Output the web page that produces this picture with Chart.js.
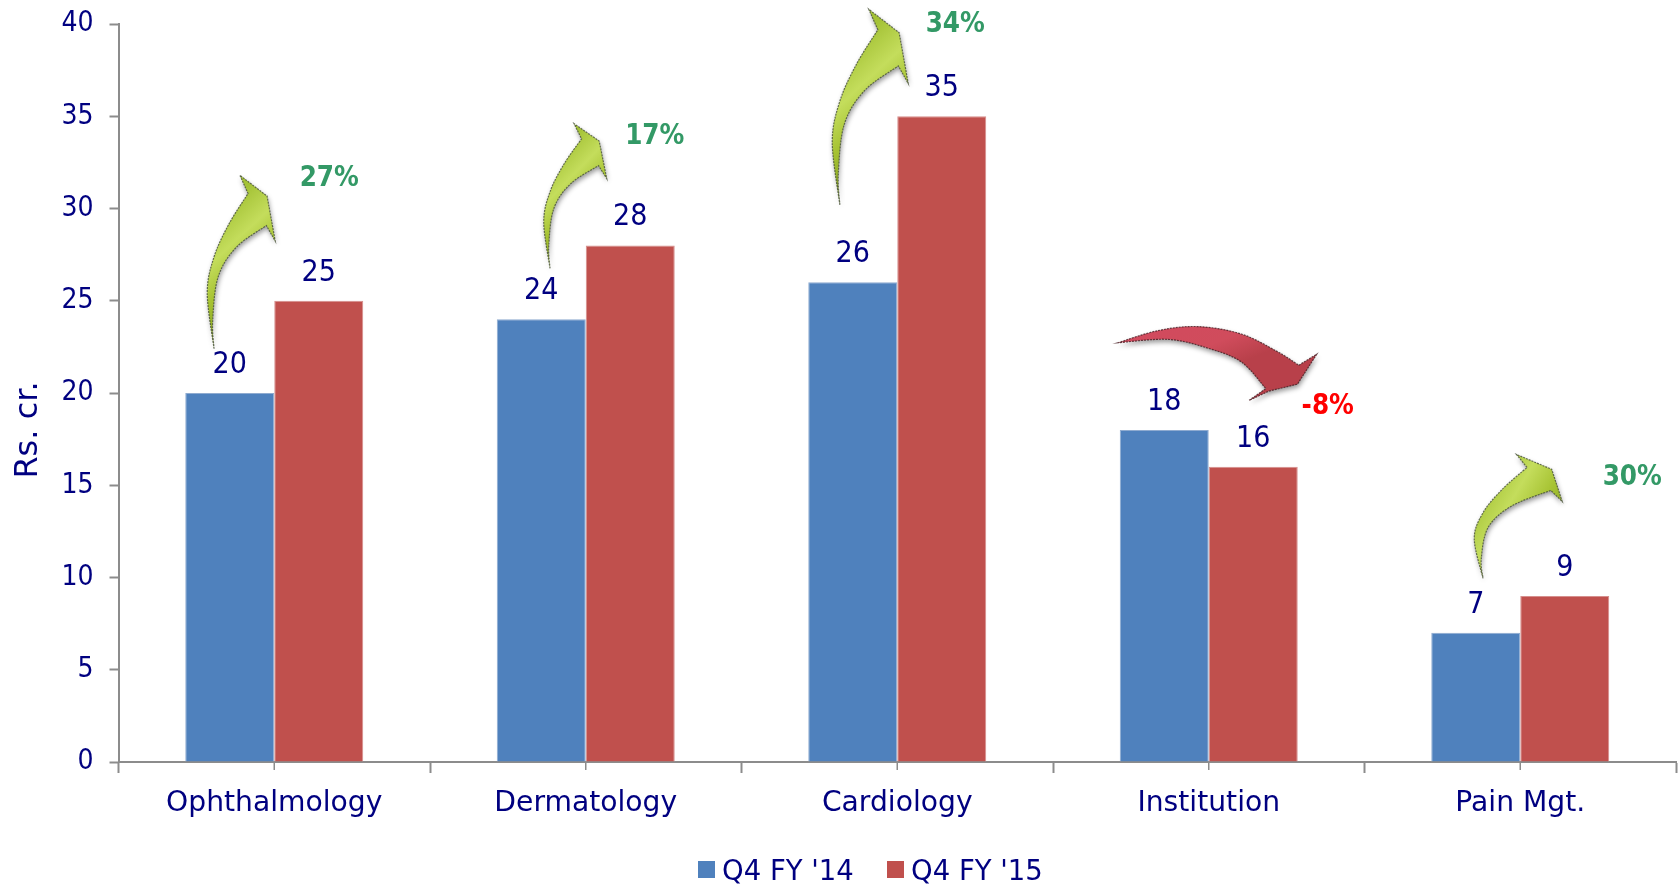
<!DOCTYPE html>
<html>
<head>
<meta charset="utf-8">
<title>Q4 revenue by division</title>
<script src="https://cdn.jsdelivr.net/npm/chart.js@4/dist/chart.umd.min.js"></script>
<style>
  html, body { margin: 0; background: #fff; }
  #wrap { position: relative; width: 1680px; height: 885px; }
</style>
</head>
<body>
<div id="wrap"><canvas id="chart"></canvas></div>
<script>
const categories = ["Ophthalmology", "Dermatology", "Cardiology", "Institution", "Pain Mgt."];
const q4fy14 = [20, 24, 26, 18, 7];
const q4fy15 = [25, 28, 35, 16, 9];
const growth = ["27%", "17%", "34%", "-8%", "30%"];

const NAVY = "#000080";
const AXIS = "#8c8c8c";
const WORDS = "'DejaVu Sans', sans-serif";
const DIGITS = "'DejaVu Sans Condensed', 'DejaVu Sans', sans-serif";

// where each growth arrow and its label sit: x in pixels off the category centre, y in axis units
const arrowBoxes = [
  { left: -67, right: 1,   top: 31.8, bottom: 22.4 },
  { left: -42, right: 21,  top: 34.6, bottom: 26.75 },
  { left: -65, right: 11,  top: 40.8, bottom: 30.2 },
  { left: -91, right: 108, top: 23.6, bottom: 19.6 },
  { left: -46, right: 42,  top: 16.67, bottom: 9.95 },
];
const growthSpots = [
  { dx: 55,  value: 31.2 },
  { dx: 69,  value: 33.5 },
  { dx: 58,  value: 39.55 },
  { dx: 119, value: 18.84 },
  { dx: 112, value: 15.0 },
];

// arrow outlines, 0..1 inside their box
const upCurveOut = [[0.1, 1], [0, 0.68], [0.1, 0.47], [0.32, 0.28], [0.6, 0.105]];
const upHead = [[0.48, 0], [0.88, 0.12], [1, 0.38], [0.87, 0.29]];
const upCurveIn = [[0.87, 0.29], [0.43, 0.414], [0.16, 0.586], [0.08, 0.84], [0.1, 1]];
const downCurveOut = [[0, 0.22], [0.2, 0.056], [0.4, 0], [0.62, 0.1], [0.8, 0.336], [0.91, 0.523]];
const downHead = [[1, 0.374], [0.903, 0.78], [0.76, 0.874], [0.66, 1], [0.744, 0.84]];
const downCurveIn = [[0.744, 0.84], [0.62, 0.477], [0.45, 0.29], [0.25, 0.173], [0, 0.22]];

// catmull-rom through the points, current point being the first one
function smoothTo (ctx, pts, box) {
  const px = p => [box.x + p[0] * box.w, box.y + p[1] * box.h];
  const at = i => px(pts[Math.max(0, Math.min(pts.length - 1, i))]);
  for (let i = 0; i < pts.length - 1; i++) {
    const p0 = at(i - 1), p1 = at(i), p2 = at(i + 1), p3 = at(i + 2);
    ctx.bezierCurveTo(
      p1[0] + (p2[0] - p0[0]) / 6, p1[1] + (p2[1] - p0[1]) / 6,
      p2[0] - (p3[0] - p1[0]) / 6, p2[1] - (p3[1] - p1[1]) / 6,
      p2[0], p2[1]
    );
  }
}

function drawArrow (ctx, box, up) {
  const out = up ? upCurveOut : downCurveOut;
  const head = up ? upHead : downHead;
  const inner = up ? upCurveIn : downCurveIn;
  ctx.save();
  ctx.filter = "blur(0.5px)";
  ctx.beginPath();
  ctx.moveTo(box.x + out[0][0] * box.w, box.y + out[0][1] * box.h);
  smoothTo(ctx, out, box);
  head.forEach(p => ctx.lineTo(box.x + p[0] * box.w, box.y + p[1] * box.h));
  smoothTo(ctx, inner, box);
  ctx.closePath();

  let g;
  if (up) {
    g = ctx.createLinearGradient(box.x, box.y + box.h * 0.2, box.x + box.w, box.y + box.h * 0.62);
    g.addColorStop(0.1, "#a4c236");
    g.addColorStop(0.42, "#c4dd5c");
    g.addColorStop(0.7, "#a6c232");
    g.addColorStop(1, "#86a324");
  } else {
    g = ctx.createLinearGradient(box.x, box.y, box.x + box.w * 0.15, box.y + box.h);
    g.addColorStop(0.1, "#d24a5e");
    g.addColorStop(0.65, "#d04c5c");
    g.addColorStop(1, "#b8404a");
  }
  ctx.save();
  ctx.shadowColor = "rgba(0,0,0,0.4)";
  ctx.shadowBlur = 5;
  ctx.shadowOffsetX = 1;
  ctx.shadowOffsetY = 3;
  ctx.fillStyle = g;
  ctx.fill();
  ctx.restore();
  ctx.strokeStyle = up ? "rgba(70,80,55,0.8)" : "rgba(70,30,35,0.8)";
  ctx.lineWidth = 1.2;
  ctx.setLineDash([2, 1]);
  ctx.stroke();
  ctx.restore();
}

const decorations = {
  id: "decorations",
  afterDatasetsDraw (chart) {
    const { ctx, scales: { x, y } } = chart;
    ctx.save();

    // short tick under each category centre
    ctx.strokeStyle = AXIS;
    ctx.lineWidth = 1.5;
    categories.forEach((c, i) => {
      const cx = x.getPixelForValue(i);
      ctx.beginPath();
      ctx.moveTo(cx, y.bottom);
      ctx.lineTo(cx, y.bottom + 8);
      ctx.stroke();
    });

    // value above every bar
    ctx.fillStyle = NAVY;
    ctx.font = "30px " + DIGITS;
    ctx.textAlign = "center";
    ctx.textBaseline = "alphabetic";
    chart.data.datasets.forEach((ds, d) => {
      chart.getDatasetMeta(d).data.forEach((bar, i) => {
        ctx.fillText(ds.data[i], bar.x, bar.y - 20);
      });
    });

    // growth arrows
    arrowBoxes.forEach((b, i) => {
      const cx = x.getPixelForValue(i);
      const top = y.getPixelForValue(b.top);
      const box = { x: cx + b.left, y: top, w: b.right - b.left, h: y.getPixelForValue(b.bottom) - top };
      drawArrow(ctx, box, q4fy15[i] >= q4fy14[i]);
    });

    // growth percentages
    ctx.font = "bold 27.5px " + DIGITS;
    growth.forEach((t, i) => {
      ctx.fillStyle = t.startsWith("-") ? "#ff0000" : "#339966";
      ctx.fillText(t, x.getPixelForValue(i) + growthSpots[i].dx, y.getPixelForValue(growthSpots[i].value));
    });

    // axis caption
    ctx.save();
    ctx.translate(37, 430);
    ctx.rotate(-Math.PI / 2);
    ctx.fillStyle = NAVY;
    ctx.font = "32px " + WORDS;
    ctx.fillText("Rs. cr.", 0, 0);
    ctx.restore();

    // legend
    ctx.font = "27.5px " + WORDS;
    ctx.textAlign = "left";
    let lx = 698;
    chart.data.datasets.forEach(ds => {
      ctx.fillStyle = ds.backgroundColor;
      ctx.fillRect(lx, 861, 17, 17);
      ctx.fillStyle = NAVY;
      ctx.fillText(ds.label, lx + 24, 880);
      lx += 189;
    });
    ctx.restore();
  },
};

new Chart(document.getElementById("chart"), {
  type: "bar",
  data: {
    labels: categories,
    datasets: [
      {
        label: "Q4 FY '14",
        data: q4fy14,
        backgroundColor: "#4f81bd",
        borderColor: "#8fabd0",
        borderWidth: 1,
      },
      {
        label: "Q4 FY '15",
        data: q4fy15,
        backgroundColor: "#c0504d",
        borderColor: "#d68f8d",
        borderWidth: 1,
      },
    ],
  },
  options: {
    responsive: true,
    maintainAspectRatio: false,
    animation: false,
    layout: { padding: { top: 24, right: 4, left: 0, bottom: 0 } },
    datasets: { bar: { categoryPercentage: 0.5714, barPercentage: 1 } },
    plugins: {
      legend: { display: false },
      tooltip: { enabled: false },
    },
    scales: {
      x: {
        afterFit (scale) { scale.height = 123; },
        grid: { offset: true, drawOnChartArea: false, tickLength: 11, tickColor: AXIS, tickWidth: 2 },
        border: { color: AXIS, width: 2 },
        ticks: {
          color: NAVY,
          font: { family: WORDS, size: 28.2 },
          padding: 14,
          maxRotation: 0,
          autoSkip: false,
        },
      },
      y: {
        min: 0,
        max: 40,
        afterFit (scale) {
          scale.width = 118.5;
          scale.paddingTop = 0;
          scale.paddingBottom = 0;
        },
        grid: { drawOnChartArea: false, tickLength: 9, tickColor: AXIS, tickWidth: 2 },
        border: { color: AXIS, width: 2 },
        ticks: {
          stepSize: 5,
          color: NAVY,
          font: { family: DIGITS, size: 28 },
          padding: 16,
        },
      },
    },
  },
  plugins: [decorations],
});
</script>
</body>
</html>
